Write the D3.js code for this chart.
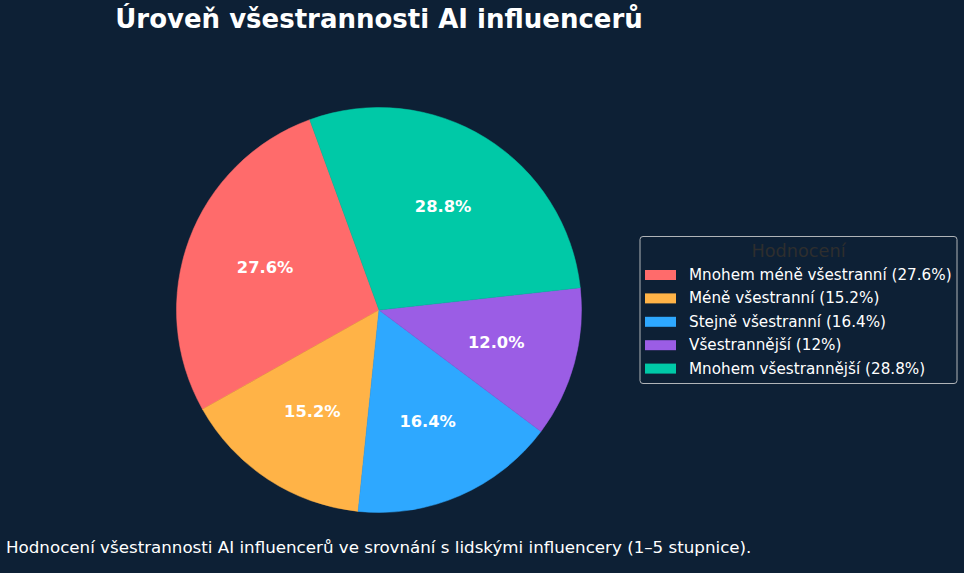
<!DOCTYPE html>
<html><head><meta charset="utf-8">
<script src="https://cdn.jsdelivr.net/npm/d3@7"></script>
<style>
html,body{margin:0;padding:0;background:#0d2035;}
svg{display:block;}
</style></head>
<body>
<svg id="chart" width="964" height="573"></svg>
<script>
const categories = ["Mnohem méně všestranní", "Méně všestranní", "Stejně všestranní", "Všestrannější", "Mnohem všestrannější"];
const values = [27.6, 15.2, 16.4, 12.0, 28.8];
const legendPct = ["27.6%", "15.2%", "16.4%", "12%", "28.8%"];
const colors = ["#ff6b6b", "#ffb347", "#2ea8ff", "#9b5de5", "#00c9a7"];
const titleText = "Úroveň všestrannosti AI influencerů";
const legendTitle = "Hodnocení";
const footnote = "Hodnocení všestrannosti AI influencerů ve srovnání s lidskými influencery (1–5 stupnice).";

const W = 964, H = 573;
const svg = d3.select("#chart");
svg.append("rect").attr("width", W).attr("height", H).attr("fill", "#0d2035");

const cx = 379, cy = 310, R = 202.5;
const deg = Math.PI / 180;
const start = -20 * deg;
const pie = d3.pie().sort(null).value(d => d).startAngle(start).endAngle(start - 2 * Math.PI);
const arcs = pie(values);
const arc = d3.arc().innerRadius(0).outerRadius(R);
const labelArc = d3.arc().innerRadius(R * 0.6).outerRadius(R * 0.6);

const g = svg.append("g").attr("transform", `translate(${cx},${cy})`);
g.selectAll("path.slice").data(arcs).enter().append("path")
  .attr("class", "slice")
  .attr("d", arc)
  .attr("fill", (d, i) => colors[i])
  .attr("stroke", (d, i) => colors[i])
  .attr("stroke-width", 0.5);

g.selectAll("text.lbl").data(arcs).enter().append("text")
  .attr("class", "lbl")
  .attr("transform", d => `translate(${labelArc.centroid(d)})`)
  .attr("text-anchor", "middle")
  .attr("dominant-baseline", "central")
  .attr("font-family", "DejaVu Sans")
  .attr("font-weight", "bold")
  .attr("font-size", 16.3)
  .attr("fill", "#ffffff")
  .text(d => d3.format(".1f")(d.data) + "%");

svg.append("text")
  .attr("x", 379).attr("y", 28)
  .attr("text-anchor", "middle")
  .attr("font-family", "DejaVu Sans")
  .attr("font-weight", "bold")
  .attr("font-size", 26)
  .attr("fill", "#ffffff")
  .text(titleText);

// legend
const lg = svg.append("g");
lg.append("rect")
  .attr("x", 640).attr("y", 236.5).attr("width", 317).attr("height", 147)
  .attr("rx", 3).attr("ry", 3)
  .attr("fill", "#0d2035")
  .attr("stroke", "#b0b4b8").attr("stroke-width", 1);
lg.append("text")
  .attr("x", 798.5).attr("y", 251)
  .attr("text-anchor", "middle")
  .attr("dominant-baseline", "central")
  .attr("font-family", "DejaVu Sans")
  .attr("font-size", 17.7)
  .attr("fill", "#2e2e2e")
  .text(legendTitle);
const rows = lg.selectAll("g.row").data(categories).enter().append("g")
  .attr("class", "row")
  .attr("transform", (d, i) => `translate(645,${275 + i * 23.4})`);
rows.append("rect").attr("x", 0).attr("y", -5).attr("width", 31).attr("height", 10)
  .attr("fill", (d, i) => colors[i]);
rows.append("text")
  .attr("x", 44).attr("y", 0)
  .attr("dominant-baseline", "central")
  .attr("font-family", "DejaVu Sans")
  .attr("font-size", 15.2)
  .attr("fill", "#ffffff")
  .text((d, i) => `${d} (${legendPct[i]})`);

svg.append("text")
  .attr("x", 6).attr("y", 553)
  .attr("font-family", "DejaVu Sans")
  .attr("font-size", 16.7)
  .attr("fill", "#ffffff")
  .text(footnote);
</script>
</body></html>
